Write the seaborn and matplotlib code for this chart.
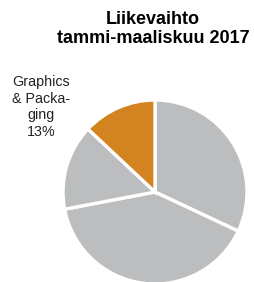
import matplotlib
matplotlib.use("Agg")
import matplotlib.pyplot as plt
import seaborn as sns

# Liikevaihto tammi-maaliskuu 2017, shares in percent (clockwise from 12 o'clock)
segments = ["seg1", "seg2", "seg3", "Graphics\n& Packa-\nging"]
shares = [32, 40, 15, 13]
show_label = [False, False, False, True]
colors = ["#bcbdbf", "#bcbdbf", "#bcbdbf", "#d38420"]

sns.set_theme(style="white")
plt.rcParams['font.family'] = ['Liberation Sans', 'DejaVu Sans']

fig = plt.figure(figsize=(2.54, 2.82), dpi=100)
ax = fig.add_axes([0, 0, 1, 1])

ax.pie(shares, colors=colors, startangle=90, counterclock=False,
       center=(155, 90), radius=92, frame=True,
       wedgeprops=dict(edgecolor="white", linewidth=2.4))
ax.set_xlim(0, 254)
ax.set_ylim(0, 282)
ax.set_aspect("equal")
ax.axis("off")

for name, share, show in zip(segments, shares, show_label):
    if show:
        ax.text(41, 175, "{}\n{}%".format(name, share), ha="center", va="center",
                fontsize=10.3, linespacing=1.22, color="#222222")

fig.text(0.603, 0.898, "Liikevaihto\ntammi-maaliskuu 2017", ha="center", va="center",
         fontsize=13, fontweight="bold", linespacing=1.15, color="black")

fig.savefig("out.png", dpi=100)
